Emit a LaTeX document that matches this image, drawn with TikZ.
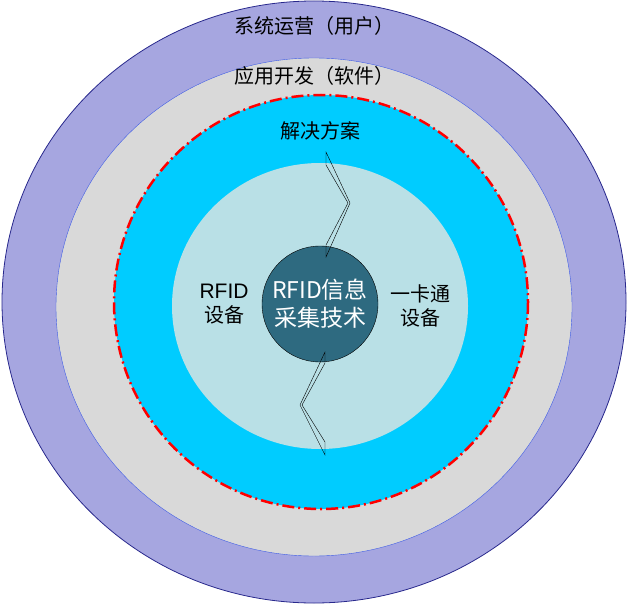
\documentclass[tikz,border=0pt]{standalone}
\usepackage{fontspec}
\setmainfont{Liberation Sans}
\newfontfamily\cjk{Noto Sans CJK SC}
\definecolor{userc}{RGB}{166,166,224}
\definecolor{userb}{RGB}{40,40,140}
\definecolor{softc}{RGB}{217,217,217}
\definecolor{softb}{RGB}{60,90,230}
\definecolor{solc}{RGB}{0,204,255}
\definecolor{devc}{RGB}{185,224,230}
\definecolor{corec}{RGB}{46,106,128}
\begin{document}
\begin{tikzpicture}[x=1pt,y=-1pt]
  \tikzset{lbl/.style={font=\cjk\fontsize{20}{24}\selectfont,align=center},
    zig/.style={draw=black,thin,fill=none,line join=miter}}

  \useasboundingbox (0,0) rectangle (628,604);
  % rings
  \draw[fill=userc,draw=userb,thick] (314,302) ellipse (312 and 301);
  \draw[fill=softc,draw=softb] (314,307) ellipse (258 and 249);
  \draw[fill=solc,draw=red,line width=2.5pt,dash pattern=on 12pt off 4pt on 2pt off 4pt] (321,302) ellipse (207 and 207);
  \fill[devc] (320,306) ellipse (148 and 143);
  \node[circle,minimum size=116pt,inner sep=0pt,draw=black,fill=corec] (core) at (320,304) {};

  % folded arrows
  \draw[zig] (326,165) -- (326,152) -- (350,203) -- (326,257) -- (326,245) -- (348,203) -- cycle;
  \draw[zig] (325,363) -- (325,352) -- (300,405) -- (325,455) -- (325,442) -- (302,405) -- cycle;

  \node[lbl] (user) at (314,26) {系统运营（用户）};
  \node[lbl] (soft) at (314,76) {应用开发（软件）};
  \node[lbl] (sol) at (320,131) {解决方案};
  \node[lbl] (rfid) at (224,304) {\fontsize{21}{24}\selectfont\rmfamily RFID\\\cjk 设备};
  \node[lbl] (card) at (420,306) {一卡通\\设备};
  \node[lbl,text=white,font=\cjk\fontsize{23}{28}\selectfont] (tech) at (core) {RFID信息\\采集技术};
\end{tikzpicture}
\end{document}
